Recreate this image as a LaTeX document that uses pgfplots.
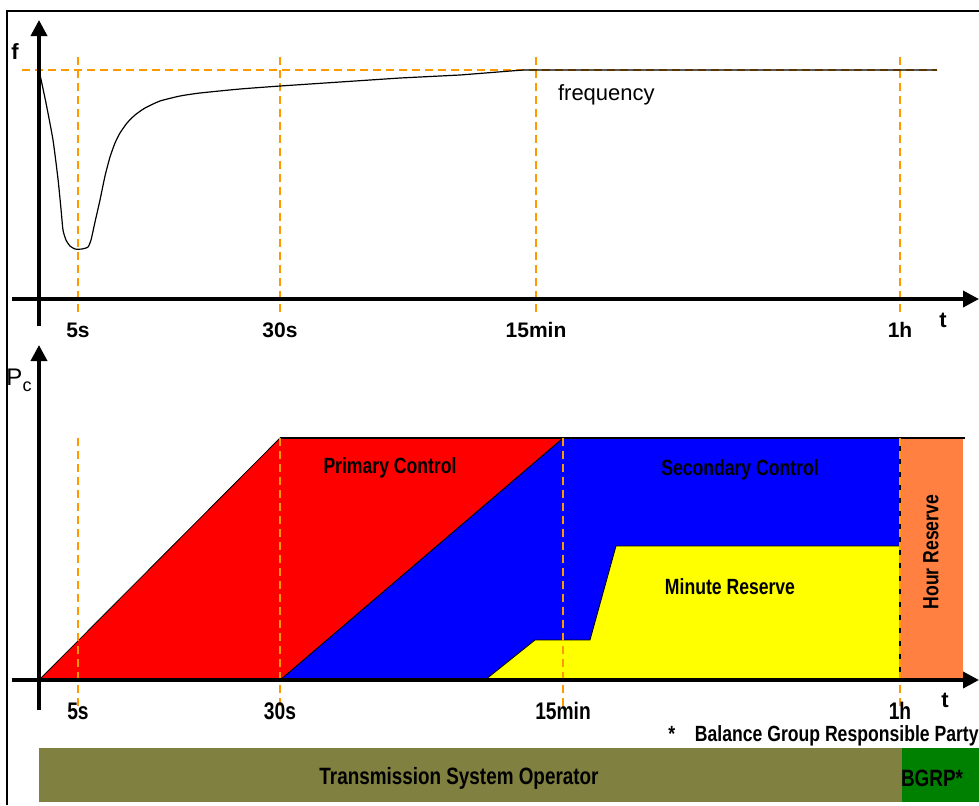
\documentclass[border=0pt]{standalone}
\usepackage{fontspec}
\setmainfont{Liberation Sans}
\newfontfamily\narrow[FakeStretch=0.8]{Liberation Sans}
\usepackage{pgfplots}
\pgfplotsset{compat=1.18}
\usetikzlibrary{arrows.meta}
\definecolor{dashor}{HTML}{FF9900}
\definecolor{primred}{HTML}{FF0000}
\definecolor{secblue}{HTML}{0000FF}
\definecolor{minyel}{HTML}{FFFF00}
\definecolor{hourorange}{HTML}{FF8040}
\definecolor{tsoolive}{HTML}{808040}
\definecolor{bgrpgreen}{HTML}{008000}

% one data unit = one pixel of the reference (0.5pt)
\pgfplotsset{sketch/.style={
  axis lines=middle, x=0.5pt, y=0.5pt, anchor=origin,
  enlargelimits=false, clip=false, axis on top,
  axis line style={line width=1.8pt, -{Triangle[length=8pt,width=8pt]}},
  ytick=\empty, major tick length=0pt,
},
guide/.style={dashor, line width=1pt, dash pattern=on 4pt off 2.5pt, forget plot}}

\begin{document}
\begin{tikzpicture}
  \draw[line width=1pt] (3.5pt,-402.5pt) -- (3.5pt,-5.5pt) -- (489.5pt,-5.5pt);

  % frequency response
  \begin{axis}[sketch, at={(19.5pt,-149.5pt)},
    xmin=-27, xmax=940, ymin=-27, ymax=279,
    xtick={39,241,497,861}, xticklabels={5s,30s,15min,1h},
    xticklabel style={anchor=base, yshift=-19pt, font=\bfseries\fontsize{10.5}{12}\selectfont},
  ]
    \addplot[guide] coordinates {(-17,229) (898,229)};
    \addplot[guide] coordinates {(39,242) (39,-14)};
    \addplot[guide] coordinates {(241,242) (241,-14)};
    \addplot[guide] coordinates {(497,242) (497,-14)};
    \addplot[guide] coordinates {(861,242) (861,-14)};
    \addplot[black, line width=0.6pt, smooth, tension=0.35] coordinates {
      (0,229) (7,196) (14,159) (19,120) (22,90) (24,69) (27,59)
      (31,53) (36,50) (43,50) (49,52) (52,59) (56,77) (61,99) (66,123)
      (71,142) (76,156) (81,166) (88,176) (96,184) (106,191) (121,198)
      (141,203) (161,206) (201,210) (241,213)};
    \addplot[black, line width=0.6pt] coordinates {
      (241,213) (301,217) (361,221) (421,224) (484,229) (898,229)};
    \node[anchor=west, font=\fontsize{11}{13}\selectfont] at (axis cs:512,204) {frequency};
    \node[font=\bfseries\fontsize{11}{13}\selectfont] at (axis cs:-24,247) {f};
    \node[font=\bfseries\fontsize{11}{13}\selectfont] at (axis cs:904,-21) {t};
  \end{axis}

  % control power
  \begin{axis}[sketch, at={(19.5pt,-340pt)},
    xmin=-27, xmax=940, ymin=-30, ymax=335,
    xtick={39,241,524,861}, xticklabels={5s,30s,15min,1h},
    xticklabel style={anchor=base, yshift=-19.5pt, font=\narrow\bfseries\fontsize{12}{14}\selectfont},
  ]
    \addplot[fill=secblue, draw=black, line width=0.4pt] coordinates {(241,0) (524,242) (861,242) (861,0)} -- cycle;
    \addplot[fill=primred, draw=black, line width=0.4pt] coordinates {(0,0) (241,242) (524,242) (241,0)} -- cycle;
    \addplot[fill=minyel, draw=black, line width=0.4pt] coordinates {(446,0) (496,40) (551,40) (577,134) (861,134) (861,0)} -- cycle;
    \addplot[fill=hourorange, draw=none] coordinates {(861,0) (924,0) (924,242) (861,242)} -- cycle;
    \addplot[black, line width=0.6pt] coordinates {(861,0) (861,242)};
    \addplot[black, line width=0.6pt] coordinates {(241,242) (926,242)};
    \addplot[guide] coordinates {(39,242) (39,-30)};
    \addplot[guide] coordinates {(241,242) (241,-30)};
    \addplot[guide] coordinates {(524,242) (524,-30)};
    \addplot[guide] coordinates {(861,242) (861,-30)};
    % responsibility bars
    \addplot[fill=tsoolive, draw=none] coordinates {(0,-68) (863,-68) (863,-122) (0,-122)} -- cycle;
    \addplot[fill=bgrpgreen, draw=none] coordinates {(863,-68) (945,-68) (945,-122) (863,-122)} -- cycle;

    \begin{scope}[font=\narrow\bfseries\fontsize{11}{13}\selectfont]
      \node at (axis cs:351,212) {Primary Control};
      \node at (axis cs:701,210) {Secondary Control};
      \node at (axis cs:691,93) {Minute Reserve};
      \node[rotate=90] at (axis cs:892,128) {Hour Reserve};
      \node[font=\narrow\bfseries\fontsize{11.8}{14}\selectfont] at (axis cs:420,-98) {Transmission System Operator};
      \node[font=\narrow\bfseries\fontsize{11.8}{14}\selectfont] at (axis cs:893,-98) {BGRP*};
      \node[anchor=east, inner sep=0pt] at (axis cs:940,-56) {*\hspace{0.9em}Balance Group Responsible Party};
    \end{scope}
    \node[font=\bfseries\fontsize{11}{13}\selectfont] at (axis cs:906,-20) {t};
    \node[font=\fontsize{12}{14}\selectfont] at (axis cs:-20,300) {P\raisebox{-0.45ex}{\fontsize{9}{10}\selectfont c}};
  \end{axis}

  \pgfresetboundingbox
  \path[use as bounding box] (0pt,0pt) rectangle (489.5pt,-402.5pt);
\end{tikzpicture}
\end{document}
